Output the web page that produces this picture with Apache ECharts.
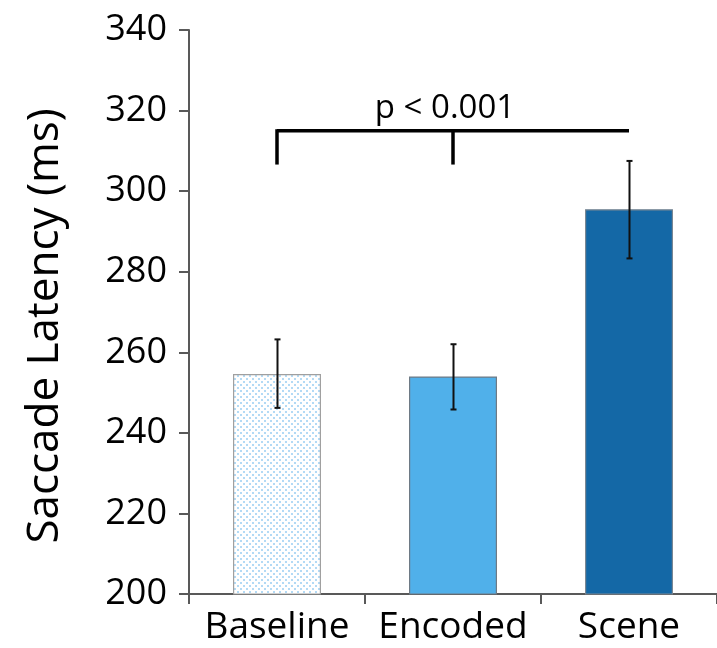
<!DOCTYPE html>
<html><head><meta charset="utf-8">
<script src="https://cdn.jsdelivr.net/npm/echarts@6/dist/echarts.min.js"></script>
<style>html,body{margin:0;padding:0;background:#fff}#c{width:717px;height:648px}</style>
</head><body><div id="c"></div>
<script>
var categories = ['Baseline', 'Encoded', 'Scene'];
var means = [254.6, 254.0, 295.5];
var errLow = [246.2, 245.8, 283.3];
var errHigh = [263.2, 262.0, 307.5];
var yTicks = {min: 200, max: 340, interval: 20};
var bracketLevel = 315;
var bracketDrop = 306.6;
var bracketLabel = 'p < 0.001';
var FONT = 'Open Sans';

var pc = document.createElement('canvas');
pc.width = 6; pc.height = 6;
var g = pc.getContext('2d');
g.fillStyle = '#ffffff'; g.fillRect(0,0,6,6);
g.fillStyle = '#b3daf5';
g.fillRect(0,0,2,2); g.fillRect(3,3,2,2);

var chart = echarts.init(document.getElementById('c'), null, {renderer:'canvas'});
var axisColor = '#595959';
chart.setOption({
  animation: false,
  grid: {left: 189, top: 30, width: 534, height: 564},
  xAxis: {
    type: 'category', data: categories,
    axisLine: {lineStyle: {color: axisColor, width: 2}},
    axisTick: {show: true, interval: 0, alignWithLabel: false, length: 10, lineStyle: {color: axisColor, width: 2}},
    axisLabel: {color: '#000', fontSize: 37, fontFamily: FONT, margin: 15, interval: 0, hideOverlap: false}
  },
  yAxis: {
    type: 'value', min: yTicks.min, max: yTicks.max, interval: yTicks.interval,
    name: 'Saccade Latency (ms)', nameLocation: 'middle', nameGap: 122,
    nameTextStyle: {color: '#000', fontSize: 44, fontFamily: FONT, padding: [0, 28, 0, 0]},
    axisLine: {show: true, lineStyle: {color: axisColor, width: 2}},
    axisTick: {show: true, length: 10, lineStyle: {color: axisColor, width: 2}},
    axisLabel: {color: '#000', fontSize: 36, fontFamily: FONT, margin: 22},
    splitLine: {show: false}
  },
  series: [
    {
      type: 'bar', barWidth: '50%',
      data: means.map(function(v, i){
        var colors = [{image: pc, repeat: 'repeat'}, '#50b0ea', '#1468a6'];
        var borders = ['#a0a0a0', '#6e7a85', '#7a8793'];
        return {value: v, itemStyle: {color: colors[i], borderColor: borders[i], borderWidth: 1.2}};
      })
    },
    {
      type: 'custom',
      data: categories.map(function(c, i){ return [i, errLow[i], errHigh[i]]; }),
      renderItem: function(params, api){
        var lo = api.coord([api.value(0), api.value(1)]);
        var hi = api.coord([api.value(0), api.value(2)]);
        var x = Math.round(lo[0]) + 0.5;
        var st = {stroke: '#111', lineWidth: 2};
        return {type: 'group', children: [
          {type: 'line', shape: {x1: x, y1: lo[1], x2: x, y2: hi[1]}, style: st},
          {type: 'line', shape: {x1: x-3, y1: lo[1], x2: x+3, y2: lo[1]}, style: st},
          {type: 'line', shape: {x1: x-3, y1: hi[1], x2: x+3, y2: hi[1]}, style: st}
        ]};
      },
      z: 10
    },
    {
      type: 'custom',
      data: [[0, bracketLevel, bracketDrop]],
      renderItem: function(params, api){
        var lvl = api.value(1), drop = api.value(2);
        var a = api.coord([0, lvl]), b = api.coord([1, lvl]), c = api.coord([2, lvl]);
        var d = api.coord([0, drop]);
        var st = {stroke: '#000', lineWidth: 3.5};
        return {type: 'group', children: [
          {type: 'line', shape: {x1: a[0], y1: a[1], x2: c[0], y2: c[1]}, style: st},
          {type: 'line', shape: {x1: a[0], y1: a[1]-1.5, x2: a[0], y2: d[1]}, style: st},
          {type: 'line', shape: {x1: b[0], y1: b[1]-1.5, x2: b[0], y2: d[1]}, style: st},
          {type: 'text', style: {text: bracketLabel, x: b[0]-8, y: a[1]-6, align: 'center', verticalAlign: 'bottom',
            fill: '#000', fontSize: 33, fontFamily: FONT}}
        ]};
      },
      z: 10
    }
  ]
});
</script></body></html>
